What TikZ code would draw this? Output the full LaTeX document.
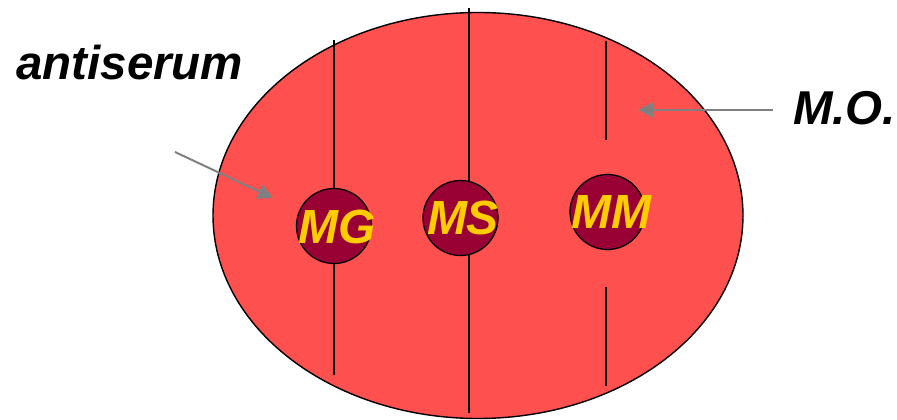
\documentclass[tikz,border=0pt]{standalone}
\usepackage{fontspec}
\setmainfont{Liberation Sans}
\usetikzlibrary{arrows.meta}

\definecolor{plate}{HTML}{FF5050}
\definecolor{wellred}{HTML}{990033}
\definecolor{gold}{HTML}{FFCC00}

\begin{document}
\begin{tikzpicture}[
    x=1pt, y=-1pt,
    agar/.style={draw, line width=1.4pt, fill=plate},
    trough/.style={line width=1.3pt, black},
    well/.style={draw, circle, line width=1.3pt, fill=wellred,
                 minimum size=75pt, inner sep=0pt},
    tag/.style={text=gold, font=\fontsize{48}{50}\selectfont\bfseries\itshape},
    title/.style={font=\fontsize{47.5}{50}\selectfont\bfseries\itshape, anchor=base west, inner sep=0pt},
    pointer/.style={-{Triangle[length=15pt, width=15pt]}, line width=2pt, gray},
]
\useasboundingbox (0,0) rectangle (897,420);

% Agar plate
\draw[agar] (478,215.5) ellipse [x radius=265, y radius=203];

% Troughs cut into the gel
\draw[trough] (334,40) -- (334,375);
\draw[trough] (469,8) -- (469,413);
\draw[trough] (606,41) -- (606,140);
\draw[trough] (606,287) -- (606,386);

% Wells with antigens
\node[well] (mg) at (334,226) {};
\node[well] (ms) at (460.5,218) {};
\node[well] (mm) at (607.5,212) {};
\node[tag] (mgtext) at (337,227) {MG};
\node[tag] (mstext) at (463,218) {MS};
\node[tag] (mmtext) at (611,212) {MM};

% Labels and pointers
\node[title] (antiserum) at (16,80) {antiserum};
\node[title] (mo) at (793,124) {M.O.};
\coordinate (astart) at (175,152);
\coordinate (aend) at (273,198);
\coordinate (mstart) at (773,110);
\coordinate (mend) at (638,110);
\draw[pointer] (astart) -- (aend);
\draw[pointer] (mstart) -- (mend);

\end{tikzpicture}
\end{document}
